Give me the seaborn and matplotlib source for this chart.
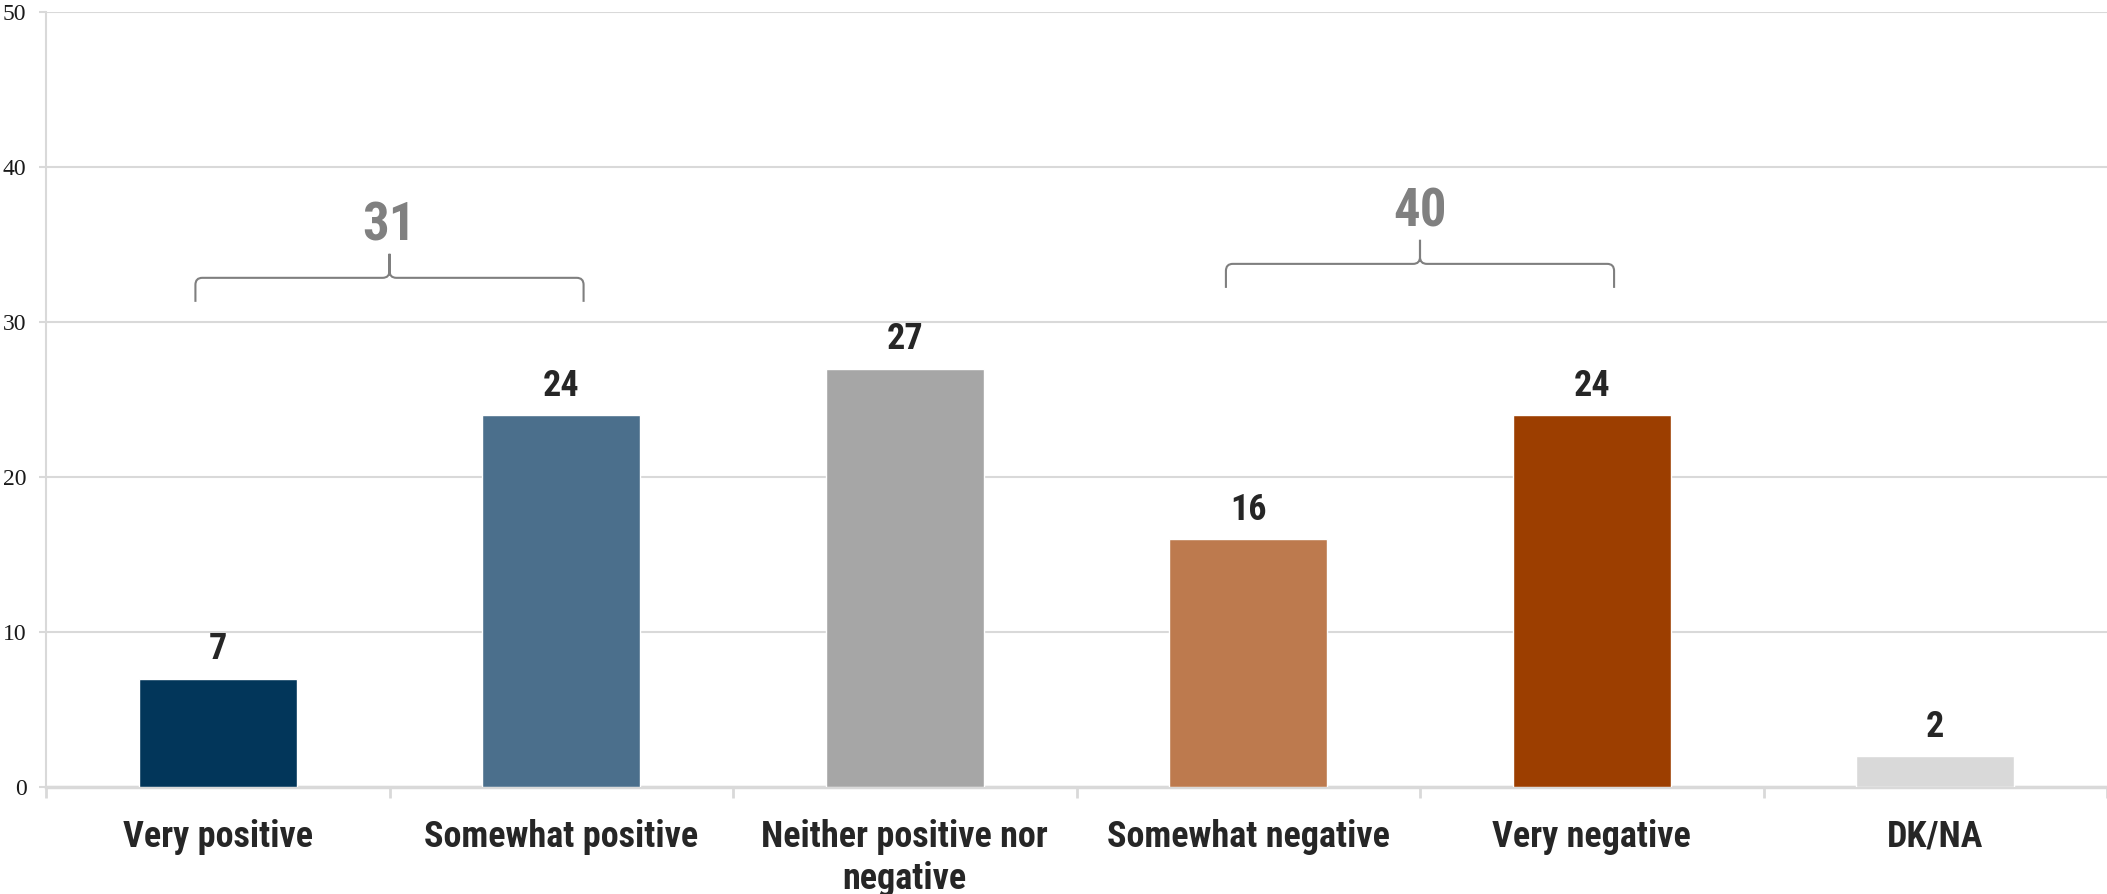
import matplotlib
matplotlib.use("Agg")
import matplotlib.pyplot as plt
from matplotlib import font_manager
from matplotlib.path import Path
from matplotlib.patches import PathPatch
import seaborn as sns

categories = ["Very positive", "Somewhat positive", "Neither positive nor\nnegative",
              "Somewhat negative", "Very negative", "DK/NA"]
values = [7, 24, 27, 16, 24, 2]
colors = ["#02365a", "#4b6f8c", "#a6a6a6", "#bd7a4e", "#9c3e00", "#d9d9d9"]
# grouped totals shown above braces: (first index, last index)
groups = [(0, 1), (3, 4)]
yticks = [0, 10, 20, 30, 40, 50]

# use a condensed sans if one is installed, else plain Liberation Sans
installed = {f.name for f in font_manager.fontManager.ttflist}
narrow = [n for n in ["Liberation Sans Narrow", "Roboto Condensed", "DejaVu Sans Condensed"]
          if n in installed]
NARROW = narrow[:1] + ["Liberation Sans", "DejaVu Sans"]
k = 1.0 if narrow else 0.85


def brace(ax, x0, x1, yb, rx=0.02, ry=0.45, h=1.55, color="#7f7f7f"):
    yh = yb + h
    yp = yh + h
    c = (x0 + x1) / 2
    verts = [(x0, yb), (x0, yh - ry), (x0, yh), (x0 + rx, yh),
             (c - rx, yh), (c, yh), (c, yh + ry), (c, yp),
             (c, yh + ry), (c, yh), (c + rx, yh),
             (x1 - rx, yh), (x1, yh), (x1, yh - ry), (x1, yb)]
    codes = [Path.MOVETO, Path.LINETO, Path.CURVE3, Path.CURVE3,
             Path.LINETO, Path.CURVE3, Path.CURVE3, Path.LINETO,
             Path.LINETO, Path.CURVE3, Path.CURVE3,
             Path.LINETO, Path.CURVE3, Path.CURVE3, Path.LINETO]
    ax.add_patch(PathPatch(Path(verts, codes), fill=False, edgecolor=color, lw=1.5))
    return c, yp


sns.set_theme(style="white")
fig = plt.figure(figsize=(21.07, 8.94), dpi=100)
ax = fig.add_axes([46 / 2107, 107 / 894, 1 - 46 / 2107, 775 / 894])

sns.barplot(x=categories, y=values, hue=categories, palette=colors,
            legend=False, width=0.46, saturation=1, ax=ax, zorder=3)

ax.set_xlim(-0.5, 5.5)
ax.set_ylim(0, 50)
ax.set_yticks(yticks)
ax.yaxis.grid(True, color="#d9d9d9", lw=1.5, zorder=0)
ax.set_axisbelow(True)
for s in ["top", "right"]:
    ax.spines[s].set_visible(False)
ax.spines["left"].set_color("#d9d9d9")
ax.spines["left"].set_linewidth(1.5)
ax.spines["bottom"].set_color("#d9d9d9")
ax.spines["bottom"].set_linewidth(2.5)

ax.set_xlabel("")
ax.set_ylabel("")
ax.tick_params(axis="y", length=5, width=1.5, color="#d9d9d9", pad=9, left=True,
               labelsize=17, labelcolor="#1a1a1a", labelfontfamily="Liberation Serif")

ax.set_xticks(range(len(categories)))
ax.set_xticklabels(categories, fontsize=26 * k, fontweight="bold", color="#262626",
                   family=NARROW, linespacing=1.2)
ax.tick_params(axis="x", length=0, pad=23)
ax.set_xticks([i - 0.5 for i in range(len(categories) + 1)], minor=True)
ax.tick_params(axis="x", which="minor", length=8, width=2, color="#d9d9d9", bottom=True)

for i, v in enumerate(values):
    ax.annotate(str(v), (i, v), xytext=(0, 8), textcoords="offset points",
                ha="center", va="bottom", fontsize=26 * k, fontweight="bold",
                color="#262626", family=NARROW)

brace_base = [31.3, 32.2]
for (i0, i1), yb in zip(groups, brace_base):
    total = sum(values[i0:i1 + 1])
    c, yp = brace(ax, i0 - 0.065, i1 + 0.065, yb)
    ax.text(c, yp + 1.8, str(total), ha="center", va="center", fontsize=38 * k,
            fontweight="bold", color="#808080", family=NARROW)

fig.savefig("out.png", dpi=100)
